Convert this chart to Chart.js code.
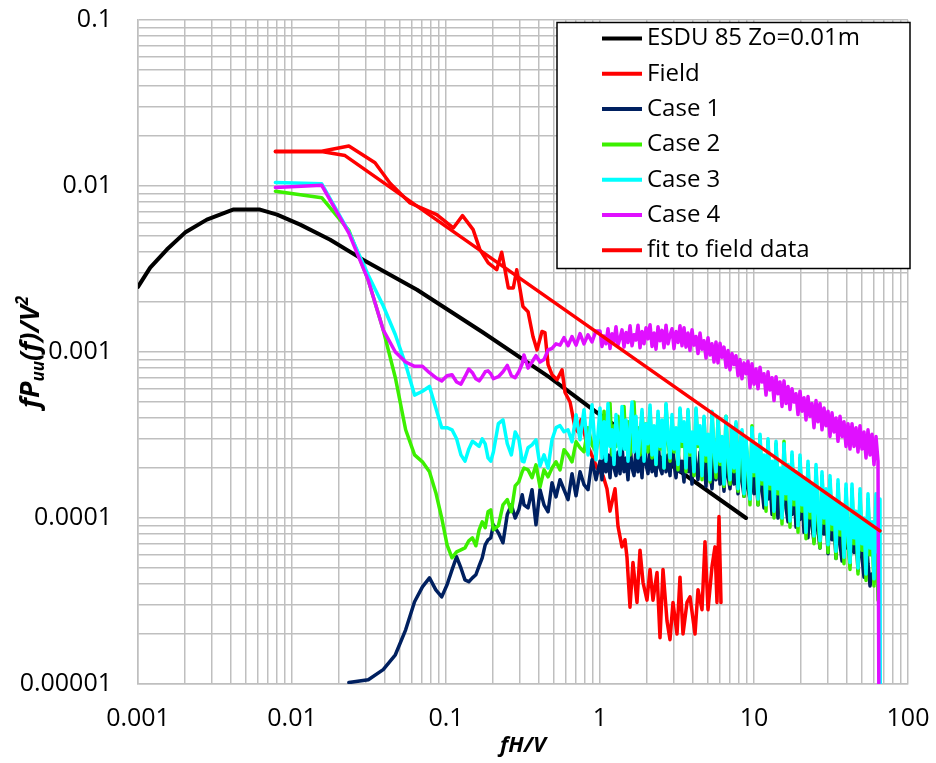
<!DOCTYPE html>
<html>
<head>
<meta charset="utf-8">
<title>Velocity spectra</title>
<script src="https://cdn.jsdelivr.net/npm/chart.js@4.4.1/dist/chart.umd.min.js"></script>
<style>
  html, body { margin: 0; padding: 0; background: #fff; }
  canvas { display: block; }
</style>
</head>
<body>
<canvas id="psdChart" width="936" height="763"></canvas>
<script>
// ---- data ----
const seriesLabels = ['ESDU 85 Zo=0.01m', 'Field', 'Case 1', 'Case 2', 'Case 3', 'Case 4', 'fit to field data'];
const xTickLabels = ['0.001', '0.01', '0.1', '1', '10', '100'];
const yTickLabels = ['0.00001', '0.0001', '0.001', '0.01', '0.1'];

const esduFreq = [0.001, 0.0012, 0.00154, 0.00202, 0.0028, 0.00414, 0.0062, 0.008, 0.0113, 0.0177, 0.0289, 0.0648, 0.174, 0.4735, 0.956, 8.87];
const esduPsd = [0.00247, 0.00322, 0.00414, 0.00524, 0.00627, 0.00721, 0.00721, 0.00672, 0.00585, 0.00475, 0.0036, 0.00237, 0.00131, 0.0007, 0.000431, 0.0001];

const fieldFreq = [0.0078, 0.0156, 0.0234, 0.0346, 0.0433, 0.0584, 0.087, 0.1115, 0.128, 0.150,
  0.166, 0.188, 0.2135, 0.230, 0.254, 0.2735, 0.288, 0.316, 0.341, 0.367,
  0.390, 0.420, 0.439, 0.460, 0.488, 0.526, 0.567, 0.593, 0.639, 0.688,
  0.720, 0.753, 0.823, 0.900, 0.956, 1.046, 1.11, 1.161, 1.252, 1.309,
  1.389, 1.453, 1.497, 1.566, 1.637, 1.739, 1.819, 1.902, 2.019, 2.112,
  2.208, 2.345, 2.453, 2.565, 2.723, 2.848, 2.979, 3.162, 3.307, 3.459,
  3.672, 3.84, 4.139, 4.329, 4.596, 4.806, 5.027, 5.337, 5.58, 5.75,
  5.925, 6.105];
const fieldPsd = [0.0162, 0.0162, 0.0174, 0.0138, 0.0104, 0.0079, 0.00672, 0.00559, 0.00663, 0.00546,
  0.00414, 0.00344, 0.00313, 0.00399, 0.00243, 0.00243, 0.00313, 0.00188, 0.00175, 0.00124,
  0.00103, 0.00133, 0.00131, 0.00084, 0.00073, 0.00068, 0.00078, 0.00057, 0.0005, 0.00035,
  0.00033, 0.00039, 0.00028, 0.00023, 0.0002, 0.00018, 0.00015, 0.00011, 0.00015, 8.9e-5,
  6.7e-5, 7.4e-5, 5.8e-5, 2.9e-5, 5.4e-5, 3.1e-5, 6.4e-5, 4.1e-5, 3.2e-5, 4.9e-5,
  3.2e-5, 4.7e-5, 1.9e-5, 4.9e-5, 2.4e-5, 1.85e-5, 3.1e-5, 2.0e-5, 4.4e-5, 2.0e-5,
  3.1e-5, 3.35e-5, 2.0e-5, 3.7e-5, 2.8e-5, 7.2e-5, 2.8e-5, 5.1e-5, 6.7e-5, 3.1e-5,
  0.000102, 3.1e-5];

const fitFreq = [0.0078, 0.0159, 0.0221, 65.8];
const fitPsd = [0.0161, 0.0161, 0.01525, 8.37e-5];

// wind tunnel frequencies shared by the four cases
const labFreq = [
  // low range
  0.0078, 0.0156, 0.0234, 0.0313, 0.0391, 0.0469, 0.0547, 0.0625, 0.0703, 0.0781,
  0.0859, 0.0938, 0.1016, 0.1094, 0.1172, 0.125, 0.1328, 0.1406, 0.1484, 0.1563,
  0.1641, 0.1719, 0.1797, 0.1875, 0.1953, 0.2031, 0.2188, 0.2344, 0.25, 0.2656,
  0.2813, 0.2969, 0.3125,
  // 0.3 - 1
  0.321, 0.341, 0.362, 0.384, 0.408, 0.433, 0.46, 0.488, 0.518, 0.55,
  0.584, 0.62, 0.658, 0.699, 0.742, 0.787, 0.836, 0.887, 0.942,
  // 1 - 66
  1.0, 1.03, 1.062, 1.094, 1.127, 1.162, 1.197, 1.233, 1.27, 1.309,
  1.349, 1.39, 1.432, 1.476, 1.52, 1.567, 1.614, 1.663, 1.713, 1.765,
  1.819, 1.874, 1.931, 1.99, 2.05, 2.113, 2.177, 2.243, 2.31, 2.381,
  2.453, 2.528, 2.604, 2.683, 2.765, 2.849, 2.935, 3.024, 3.116, 3.211,
  3.307, 3.408, 3.511, 3.618, 3.728, 3.841, 3.957, 4.077, 4.201, 4.329,
  4.46, 4.596, 4.735, 4.879, 5.027, 5.18, 5.337, 5.499, 5.665, 5.838,
  6.015, 6.197, 6.385, 6.579, 6.779, 6.985, 7.196, 7.415, 7.64, 7.872,
  8.111, 8.357, 8.611, 8.872, 9.142, 9.419, 9.705, 10.0, 10.3, 10.62,
  10.94, 11.27, 11.61, 11.97, 12.33, 12.7, 13.09, 13.49, 13.9, 14.32,
  14.75, 15.2, 15.66, 16.14, 16.63, 17.13, 17.65, 18.19, 18.74, 19.31,
  19.89, 20.5, 21.12, 21.76, 22.42, 23.1, 23.8, 24.52, 25.27, 26.03,
  26.83, 27.64, 28.48, 29.34, 30.24, 31.15, 32.1, 33.07, 34.08, 35.11,
  36.18, 37.28, 38.41, 39.57, 40.77, 42.01, 43.29, 44.6, 45.95, 47.35,
  48.79, 50.27, 51.79, 53.37, 54.99, 56.66, 58.38, 60.15, 61.97, 63.86,
  65.79,
  66.5];

const case1Psd = [
  null, null, 1.02e-5, 1.06e-5, 1.22e-5, 1.5e-5, 2.12e-5, 3.13e-5, 3.85e-5, 4.36e-5,
  3.69e-5, 3.35e-5, 3.96e-5, 4.87e-5, 5.84e-5, 5.0e-5, 4.24e-5, 4.13e-5, 4.36e-5, 4.55e-5,
  5.15e-5, 5.76e-5, 6.89e-5, 7.39e-5, 7.6e-5, 9.1e-5, 8.14e-5, 7.09e-5, 1.05e-4, 1.2e-4,
  1.0e-4, 1.12e-4, 1.38e-4,
  1.2e-4, 1.15e-4, 1.48e-4, 9.1e-5, 1.48e-4, 1.2e-4, 1.09e-4, 1.63e-4, 1.34e-4, 1.7e-4,
  1.48e-4, 1.29e-4, 1.85e-4, 1.36e-4, 1.9e-4, 1.59e-4, 1.48e-4, 2.24e-4, 1.7e-4,
  2.2e-4, 1.7e-4, 2.6e-4, 1.9e-4, 2.4e-4, 1.75e-4, 2.9e-4, 2.0e-4, 1.8e-4, 2.5e-4,
  1.85e-4, 2.7e-4, 1.9e-4, 2.3e-4, 1.7e-4, 2.8e-4, 2.0e-4, 1.8e-4, 2.6e-4, 1.9e-4,
  2.4e-4, 1.75e-4, 3.0e-4, 2.1e-4, 1.85e-4,
  2.7e-4, 1.9e-4, 2.3e-4, 1.8e-4, 2.9e-4, 2.0e-4, 1.85e-4, 2.6e-4, 1.9e-4, 2.4e-4,
  1.8e-4, 3.0e-4, 2.1e-4, 1.75e-4, 2.5e-4, 1.9e-4, 2.2e-4,
  1.65e-4, 2.7e-4, 1.9e-4, 2.3e-4, 1.6e-4, 2.8e-4, 2.0e-4, 1.7e-4, 2.5e-4, 1.8e-4,
  2.2e-4, 1.55e-4, 2.7e-4, 1.9e-4, 1.5e-4, 2.4e-4, 1.7e-4,
  2.6e-4, 1.6e-4, 2.1e-4, 1.45e-4, 2.5e-4, 1.8e-4, 1.5e-4, 2.3e-4, 1.6e-4, 2.0e-4,
  1.4e-4, 2.4e-4, 1.7e-4, 1.35e-4, 2.1e-4, 1.5e-4, 1.3e-4,
  2.2e-4, 1.4e-4, 1.8e-4, 1.2e-4, 2.1e-4, 1.5e-4, 1.15e-4, 1.8e-4, 1.3e-4, 1.65e-4,
  1.05e-4, 1.9e-4, 1.3e-4, 1.0e-4, 1.6e-4, 1.1e-4,
  1.8e-4, 1.15e-4, 9.5e-5, 1.5e-4, 1.05e-4, 1.6e-4, 8.8e-5, 1.3e-4, 9.8e-5, 1.5e-4,
  8.2e-5, 1.2e-4, 7.6e-5, 1.4e-4, 9.0e-5, 7.2e-5, 1.3e-4,
  8.4e-5, 6.6e-5, 1.3e-4, 8.0e-5, 1.1e-4, 6.1e-5, 1.25e-4, 7.4e-5, 9.5e-5, 5.7e-5,
  1.15e-4, 7.0e-5, 5.5e-5, 1.05e-4, 6.6e-5, 9.0e-5, 5.2e-5,
  1.1e-4, 6.2e-5, 8.4e-5, 4.8e-5, 1.0e-4, 5.8e-5, 4.4e-5, 8.0e-5, 5.3e-5, 3.9e-5,
  4.6e-5, null, null, null, null,
  null];

const case2Psd = [
  0.0093, 0.0085, 0.0054, 0.0027, 0.00136, 0.0007, 0.00034, 0.00024, 0.000218, 0.00019,
  0.000142, 0.0001, 6.89e-5, 5.76e-5, 6.25e-5, 6.43e-5, 6.61e-5, 7.29e-5, 7.6e-5, 6.8e-5,
  8.49e-5, 9.49e-5, 8.73e-5, 1.09e-4, 1.12e-4, 8.49e-5, 8.98e-5, 1.2e-4, 1.29e-4, 1.09e-4,
  1.56e-4, 1.65e-4, 1.9e-4,
  2.0e-4, 1.95e-4, 1.75e-4, 2.09e-4, 1.54e-4, 1.95e-4, 1.77e-4, 2.0e-4, 2.18e-4, 1.95e-4,
  2.58e-4, 2.4e-4, 2.18e-4, 2.88e-4, 2.65e-4, 2.51e-4, 3.5e-4, 2.76e-4, 2.51e-4,
  3.4e-4, 2.5e-4, 4.4e-4, 2.8e-4, 3.0e-4, 4.9e-4, 2.4e-4, 3.6e-4, 2.7e-4, 4.1e-4,
  2.5e-4, 3.2e-4, 4.7e-4, 2.6e-4, 3.8e-4, 2.4e-4, 3.3e-4, 5.0e-4, 2.7e-4, 3.5e-4,
  2.4e-4, 4.3e-4, 2.9e-4, 3.7e-4, 2.5e-4,
  4.6e-4, 2.3e-4, 3.4e-4, 2.1e-4, 4.2e-4, 2.6e-4, 3.7e-4, 2.0e-4, 4.8e-4, 2.9e-4,
  2.2e-4, 4.0e-4, 2.5e-4, 3.3e-4, 1.95e-4, 4.5e-4, 2.7e-4,
  3.6e-4, 1.9e-4, 4.4e-4, 2.4e-4, 3.1e-4, 1.8e-4, 4.5e-4, 2.7e-4, 3.4e-4, 1.7e-4,
  4.0e-4, 2.2e-4, 3.0e-4, 1.65e-4, 4.3e-4, 2.5e-4, 1.75e-4,
  4.0e-4, 2.1e-4, 2.9e-4, 1.55e-4, 4.1e-4, 2.3e-4, 1.6e-4, 3.4e-4, 1.9e-4, 3.7e-4,
  1.45e-4, 2.7e-4, 3.3e-4, 1.35e-4, 2.9e-4, 2.0e-4, 1.2e-4,
  3.6e-4, 1.8e-4, 2.6e-4, 1.2e-4, 3.1e-4, 1.6e-4, 2.3e-4, 1.1e-4, 2.9e-4, 1.5e-4,
  2.1e-4, 1.0e-4, 2.8e-4, 1.4e-4, 1.9e-4, 9.2e-5,
  2.9e-4, 1.3e-4, 2.0e-4, 8.8e-5, 2.4e-4, 1.2e-4, 1.8e-4, 8.2e-5, 2.3e-4, 1.1e-4,
  1.6e-4, 7.5e-5, 2.1e-4, 1.0e-4, 1.5e-4, 7.0e-5, 2.0e-4,
  1.0e-4, 6.6e-5, 1.8e-4, 9.3e-5, 1.4e-4, 6.2e-5, 1.7e-4, 8.5e-5, 1.2e-4, 5.7e-5,
  1.6e-4, 7.9e-5, 1.1e-4, 5.3e-5, 1.5e-4, 7.3e-5, 4.9e-5,
  1.5e-4, 7.0e-5, 1.0e-4, 4.6e-5, 1.4e-4, 6.4e-5, 9.2e-5, 4.2e-5, 1.3e-4, 6.0e-5,
  8.6e-5, 3.9e-5, 1.2e-4, 3.2e-5, null,
  null];

const case3Psd = [
  0.0105, 0.0103, 0.0053, 0.0029, 0.0019, 0.00127, 0.00084, 0.00055, 0.00058, 0.00062,
  0.00046, 0.00035, 0.00035, 0.00034, 0.0003, 0.00024, 0.00022, 0.00026, 0.00029, 0.00028,
  0.00027, 0.0003, 0.00028, 0.00023, 0.00022, 0.00025, 0.00037, 0.00039, 0.00028, 0.00024,
  0.00033, 0.0003, 0.00022,
  2.18e-4, 2.65e-4, 2.76e-4, 2.96e-4, 2.06e-4, 2.4e-4, 2.0e-4, 2.96e-4, 3.5e-4, 3.6e-4,
  3.31e-4, 3.4e-4, 2.88e-4, 4.19e-4, 2.96e-4, 4.49e-4, 2.4e-4, 4.81e-4, 2.24e-4,
  4.6e-4, 2.3e-4, 3.8e-4, 2.2e-4, 4.9e-4, 2.7e-4, 3.4e-4, 2.1e-4, 4.2e-4, 3.0e-4,
  2.4e-4, 4.7e-4, 2.6e-4, 3.9e-4, 2.2e-4, 3.5e-4, 5.0e-4, 2.5e-4, 4.1e-4, 2.3e-4,
  3.2e-4, 4.5e-4, 2.2e-4, 3.7e-4, 2.8e-4,
  4.8e-4, 2.4e-4, 3.6e-4, 2.1e-4, 4.4e-4, 2.7e-4, 3.9e-4, 2.0e-4, 4.9e-4, 3.1e-4,
  2.3e-4, 4.2e-4, 2.6e-4, 3.5e-4, 2.1e-4, 4.6e-4, 2.9e-4,
  3.8e-4, 2.0e-4, 4.5e-4, 2.5e-4, 3.3e-4, 1.9e-4, 4.6e-4, 2.8e-4, 3.6e-4, 1.8e-4,
  4.1e-4, 2.4e-4, 3.2e-4, 1.7e-4, 4.4e-4, 2.6e-4, 1.9e-4,
  3.9e-4, 2.2e-4, 3.1e-4, 1.6e-4, 4.1e-4, 2.4e-4, 1.7e-4, 3.5e-4, 2.0e-4, 3.8e-4,
  1.5e-4, 2.8e-4, 3.4e-4, 1.4e-4, 3.0e-4, 2.1e-4, 1.3e-4,
  3.5e-4, 1.9e-4, 2.7e-4, 1.3e-4, 3.2e-4, 1.7e-4, 2.4e-4, 1.2e-4, 3.0e-4, 1.6e-4,
  2.2e-4, 1.1e-4, 2.9e-4, 1.5e-4, 2.0e-4, 1.0e-4,
  2.8e-4, 1.4e-4, 2.1e-4, 9.6e-5, 2.5e-4, 1.3e-4, 1.9e-4, 9.0e-5, 2.4e-4, 1.2e-4,
  1.7e-4, 8.2e-5, 2.2e-4, 1.1e-4, 1.6e-4, 7.8e-5, 2.1e-4,
  1.1e-4, 7.3e-5, 1.9e-4, 1.0e-4, 1.5e-4, 6.9e-5, 1.8e-4, 9.2e-5, 1.3e-4, 6.3e-5,
  1.7e-4, 8.6e-5, 1.2e-4, 5.8e-5, 1.6e-4, 8.0e-5, 5.4e-5,
  1.6e-4, 7.6e-5, 1.1e-4, 5.0e-5, 1.5e-4, 7.0e-5, 1.0e-4, 4.6e-5, 1.4e-4, 6.6e-5,
  9.5e-5, 4.3e-5, 1.4e-4, 6.2e-5, 1.3e-4,
  1e-7];

const case4Psd = [
  0.0098, 0.0101, 0.0052, 0.0027, 0.00136, 0.001, 0.00087, 0.00082, 0.00082, 0.00075,
  0.0007, 0.00067, 0.00072, 0.00073, 0.00066, 0.00064, 0.00071, 0.00079, 0.00075, 0.00069,
  0.00067, 0.00071, 0.00076, 0.00077, 0.00074, 0.00069, 0.00071, 0.00076, 0.00083, 0.00072,
  0.0007, 0.00076, 0.00085,
  0.00096, 0.0008, 0.00087, 0.00095, 0.00087, 0.0009, 0.00103, 0.00105, 0.00112, 0.0011,
  0.00122, 0.00109, 0.00124, 0.0011, 0.00129, 0.00112, 0.00127, 0.00115, 0.00134,
  1.34e-3, 1.08e-3, 1.25e-3, 1.12e-3, 1.38e-3, 1.05e-3, 1.29e-3, 1.15e-3, 1.42e-3, 1.1e-3,
  1.21e-3, 1.36e-3, 1.07e-3, 1.31e-3, 1.14e-3, 1.44e-3, 1.09e-3, 1.27e-3, 1.18e-3, 1.45e-3,
  1.06e-3, 1.33e-3, 1.12e-3, 1.4e-3, 1.2e-3,
  1.46e-3, 1.08e-3, 1.3e-3, 1.04e-3, 1.42e-3, 1.17e-3, 1.35e-3, 1.06e-3, 1.45e-3, 1.12e-3,
  1.26e-3, 1.38e-3, 1.05e-3, 1.33e-3, 1.14e-3, 1.44e-3, 1.09e-3,
  1.4e-3, 1.07e-3, 1.3e-3, 1.02e-3, 1.36e-3, 1.1e-3, 1.24e-3, 9.8e-4, 1.3e-3, 1.04e-3,
  1.17e-3, 9.2e-4, 1.22e-3, 9.6e-4, 1.12e-3, 8.7e-4, 1.15e-3,
  8.6e-4, 1.13e-3, 9.3e-4, 1.07e-3, 8.1e-4, 1.02e-3, 7.8e-4, 9.8e-4, 8.4e-4, 9.5e-4,
  7.2e-4, 9.0e-4, 6.9e-4, 8.6e-4, 7.4e-4, 8.8e-4, 6.1e-4,
  8.5e-4, 6.4e-4, 7.9e-4, 6.0e-4, 8.1e-4, 6.6e-4, 7.4e-4, 5.5e-4, 7.6e-4, 5.9e-4,
  7.0e-4, 5.1e-4, 7.1e-4, 5.6e-4, 6.6e-4, 4.7e-4,
  6.7e-4, 4.9e-4, 6.2e-4, 4.5e-4, 6.0e-4, 5.0e-4, 5.6e-4, 4.2e-4, 5.8e-4, 4.4e-4,
  5.3e-4, 3.9e-4, 5.4e-4, 4.1e-4, 4.9e-4, 3.5e-4, 5.1e-4,
  3.8e-4, 4.9e-4, 3.4e-4, 4.6e-4, 3.6e-4, 4.4e-4, 3.1e-4, 4.3e-4, 3.3e-4, 4.0e-4,
  2.9e-4, 4.1e-4, 3.1e-4, 3.8e-4, 2.7e-4, 3.7e-4, 2.6e-4,
  3.7e-4, 2.7e-4, 3.5e-4, 2.5e-4, 3.6e-4, 2.6e-4, 3.3e-4, 2.3e-4, 3.4e-4, 2.4e-4,
  3.2e-4, 2.1e-4, 3.1e-4, 2.2e-4, 1e-7,
  null];

// ---- helpers ----
const pairUp = (xs, ys) => xs.map((x, i) => ({ x: x, y: ys[i] === undefined ? null : ys[i] }));

// 1..9 x 10^n gridlines for a log axis
function logGridTicks(min, max) {
  const ticks = [];
  for (let e = Math.round(Math.log10(min)); e < Math.round(Math.log10(max)); e++) {
    for (let m = 1; m < 10; m++) ticks.push({ value: m * Math.pow(10, e) });
  }
  ticks.push({ value: max });
  return ticks;
}

function decadeLabel(value, labels, firstExp) {
  const e = Math.log10(value);
  if (Math.abs(e - Math.round(e)) > 1e-6) return '';
  return labels[Math.round(e) - firstExp] || '';
}

const gridColor = '#bfbfbf';
const tickFont = { family: 'Open Sans', size: 25 };

// legend drawn as a framed box inside the plot
const boxLegend = {
  id: 'boxLegend',
  afterDraw(chart) {
    const ctx = chart.ctx;
    const area = chart.chartArea;
    const left = area.right - 351, top = area.top + 2.5, w = 353, h = 246;
    ctx.save();
    ctx.fillStyle = '#ffffff';
    ctx.fillRect(left, top, w, h);
    ctx.strokeStyle = '#000000';
    ctx.lineWidth = 1.5;
    ctx.strokeRect(left, top, w, h);
    ctx.font = '24px "Open Sans"';
    ctx.textBaseline = 'middle';
    ctx.textAlign = 'left';
    chart.data.datasets.forEach((ds, i) => {
      const y = top + 16 + i * 35.3;
      ctx.strokeStyle = ds.borderColor;
      ctx.lineWidth = 4;
      ctx.beginPath();
      ctx.moveTo(left + 45, y);
      ctx.lineTo(left + 85, y);
      ctx.stroke();
      ctx.fillStyle = '#000000';
      ctx.fillText(ds.label, left + 90, y);
    });
    ctx.restore();
  }
};

// vertical axis title with sub/superscripts
const yAxisTitle = {
  id: 'yAxisTitle',
  afterDraw(chart) {
    const ctx = chart.ctx;
    const area = chart.chartArea;
    const big = 'italic bold 27px "Open Sans"';
    const small = 'italic bold 17px "Open Sans"';
    const parts = [
      { t: 'fP', f: big, dy: 0 },
      { t: 'uu', f: small, dy: 5 },
      { t: '(f)/V', f: big, dy: 0 },
      { t: '2', f: small, dy: -11 }
    ];
    ctx.save();
    let total = 0;
    parts.forEach(p => { ctx.font = p.f; p.w = ctx.measureText(p.t).width; total += p.w; });
    ctx.translate(39, (area.top + area.bottom) / 2);
    ctx.rotate(-Math.PI / 2);
    ctx.fillStyle = '#000000';
    ctx.textBaseline = 'alphabetic';
    let x = -total / 2;
    parts.forEach(p => {
      ctx.font = p.f;
      ctx.fillText(p.t, x, p.dy);
      x += p.w;
    });
    ctx.restore();
  }
};

const baseLine = { pointRadius: 0, pointHoverRadius: 0, borderWidth: 3.5, tension: 0, fill: false,
  borderJoinStyle: 'round', borderCapStyle: 'round' };

const ctx = document.getElementById('psdChart').getContext('2d');
const chart = new Chart(ctx, {
  type: 'line',
  data: {
    datasets: [
      { ...baseLine, label: seriesLabels[0], data: pairUp(esduFreq, esduPsd), borderColor: '#000000', borderWidth: 4, order: 6 },
      { ...baseLine, label: seriesLabels[1], data: pairUp(fieldFreq, fieldPsd), borderColor: '#ff0000', order: 5 },
      { ...baseLine, label: seriesLabels[2], data: pairUp(labFreq, case1Psd), borderColor: '#002060', order: 4 },
      { ...baseLine, label: seriesLabels[3], data: pairUp(labFreq, case2Psd), borderColor: '#3cf000', order: 3 },
      { ...baseLine, label: seriesLabels[4], data: pairUp(labFreq, case3Psd), borderColor: '#00ffff', order: 2 },
      { ...baseLine, label: seriesLabels[5], data: pairUp(labFreq, case4Psd), borderColor: '#e010ff', order: 1 },
      { ...baseLine, label: seriesLabels[6], data: pairUp(fitFreq, fitPsd), borderColor: '#ff0000', order: 0 }
    ]
  },
  options: {
    responsive: false,
    animation: false,
    events: [],
    layout: { padding: { top: 20, right: 28, left: 0, bottom: 0 } },
    plugins: {
      legend: { display: false },
      tooltip: { enabled: false }
    },
    scales: {
      x: {
        type: 'logarithmic',
        min: 0.001,
        max: 100,
        afterBuildTicks: (scale) => { scale.ticks = logGridTicks(0.001, 100); },
        afterFit: (scale) => { scale.height = 79; scale.paddingLeft = 0; scale.paddingRight = 0; },
        grid: { color: gridColor, lineWidth: 1.5, drawTicks: false },
        border: { color: gridColor, width: 1.5 },
        ticks: {
          autoSkip: false,
          maxRotation: 0,
          padding: 20,
          color: '#000000',
          font: tickFont,
          callback: (v) => decadeLabel(v, xTickLabels, -3)
        },
        title: {
          display: true,
          text: 'fH/V',
          color: '#000000',
          font: { family: 'Open Sans', size: 22, style: 'italic', weight: 'bold' },
          padding: { top: 0, bottom: 4 }
        }
      },
      y: {
        type: 'logarithmic',
        min: 0.00001,
        max: 0.1,
        afterBuildTicks: (scale) => { scale.ticks = logGridTicks(0.00001, 0.1); },
        afterFit: (scale) => { scale.width = 138; scale.paddingTop = 0; scale.paddingBottom = 0; },
        grid: { color: gridColor, lineWidth: 1.5, drawTicks: false },
        border: { color: gridColor, width: 1.5 },
        ticks: {
          autoSkip: false,
          padding: 26,
          color: '#000000',
          font: tickFont,
          callback: (v) => decadeLabel(v, yTickLabels, -5)
        }
      }
    }
  },
  plugins: [boxLegend, yAxisTitle]
});
</script>
</body>
</html>
